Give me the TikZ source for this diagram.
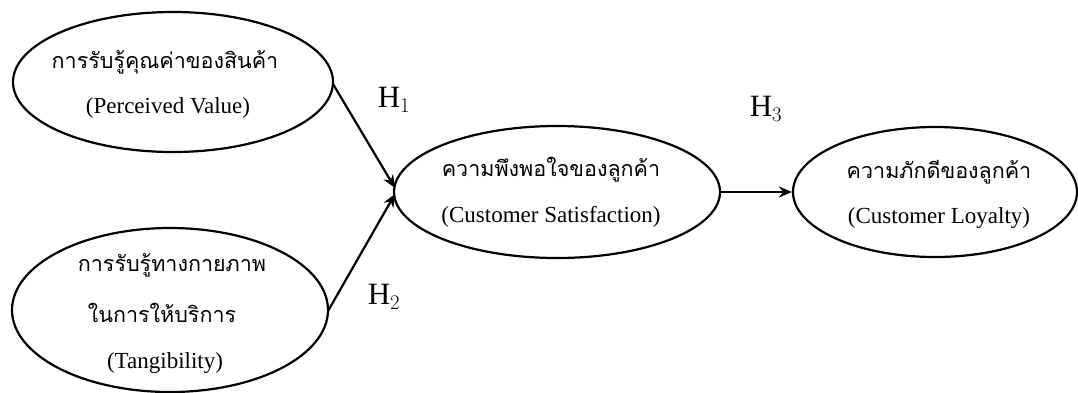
\documentclass[tikz,border=0pt]{standalone}
\usepackage{fontspec}
\setmainfont{Liberation Serif}
\newfontfamily\thaifont[Script=Thai]{Loma}
\usetikzlibrary{shapes.geometric,arrows.meta}
\tikzset{
  construct/.style={draw, line width=2.2pt, ellipse, inner sep=0pt},
  thaitext/.style={font=\thaifont\fontsize{21.5}{24}\selectfont, inner sep=0pt},
  entext/.style={font=\fontsize{23}{26}\selectfont, inner sep=0pt},
  hyp/.style={font=\fontsize{31}{34}\selectfont, inner sep=0pt},
  path/.style={line width=2.2pt, -{Stealth[length=13pt,width=11pt]}}
}
\begin{document}
\begin{tikzpicture}[x=1pt,y=-1pt]
\useasboundingbox (0,0) rectangle (1078,392);
\node[construct, minimum width=320pt, minimum height=140pt] (pv) at (173,82) {};
\node[construct, minimum width=316pt, minimum height=164pt] (tg) at (170,310) {};
\node[construct, minimum width=326pt, minimum height=132pt] (cs) at (557,192) {};
\node[construct, minimum width=284pt, minimum height=130pt] (cl) at (935,192) {};

\node[thaitext] (pvth) at (165,62) {การรับรู้คุณค่าของสินค้า};
\node[entext] (pven) at (168,108) {(Perceived Value)};
\node[thaitext] (tgth1) at (172,265) {การรับรู้ทางกายภาพ};
\node[thaitext] (tgth2) at (162,313) {ในการให้บริการ};
\node[entext] (tgen) at (165,363) {(Tangibility)};
\node[thaitext] (csth) at (551,170) {ความพึงพอใจของลูกค้า};
\node[entext] (csen) at (551,217) {(Customer Satisfaction)};
\node[thaitext] (clth) at (939,172) {ความภักดีของลูกค้า};
\node[entext] (clen) at (939,218) {(Customer Loyalty)};

\node[hyp] (h1) at (394,100) {H$_1$};
\node[hyp] (h2) at (384,297) {H$_2$};
\node[hyp] (h3) at (766,109) {H$_3$};

\coordinate (pvout) at (333,84);
\coordinate (tgout) at (328,311);
\coordinate (csin1) at (395,188);
\coordinate (csin2) at (395,194);
\draw[path] (pvout) -- (csin1);
\draw[path] (tgout) -- (csin2);
\draw[path] (cs.east) -- (cl.west);
\end{tikzpicture}
\end{document}
